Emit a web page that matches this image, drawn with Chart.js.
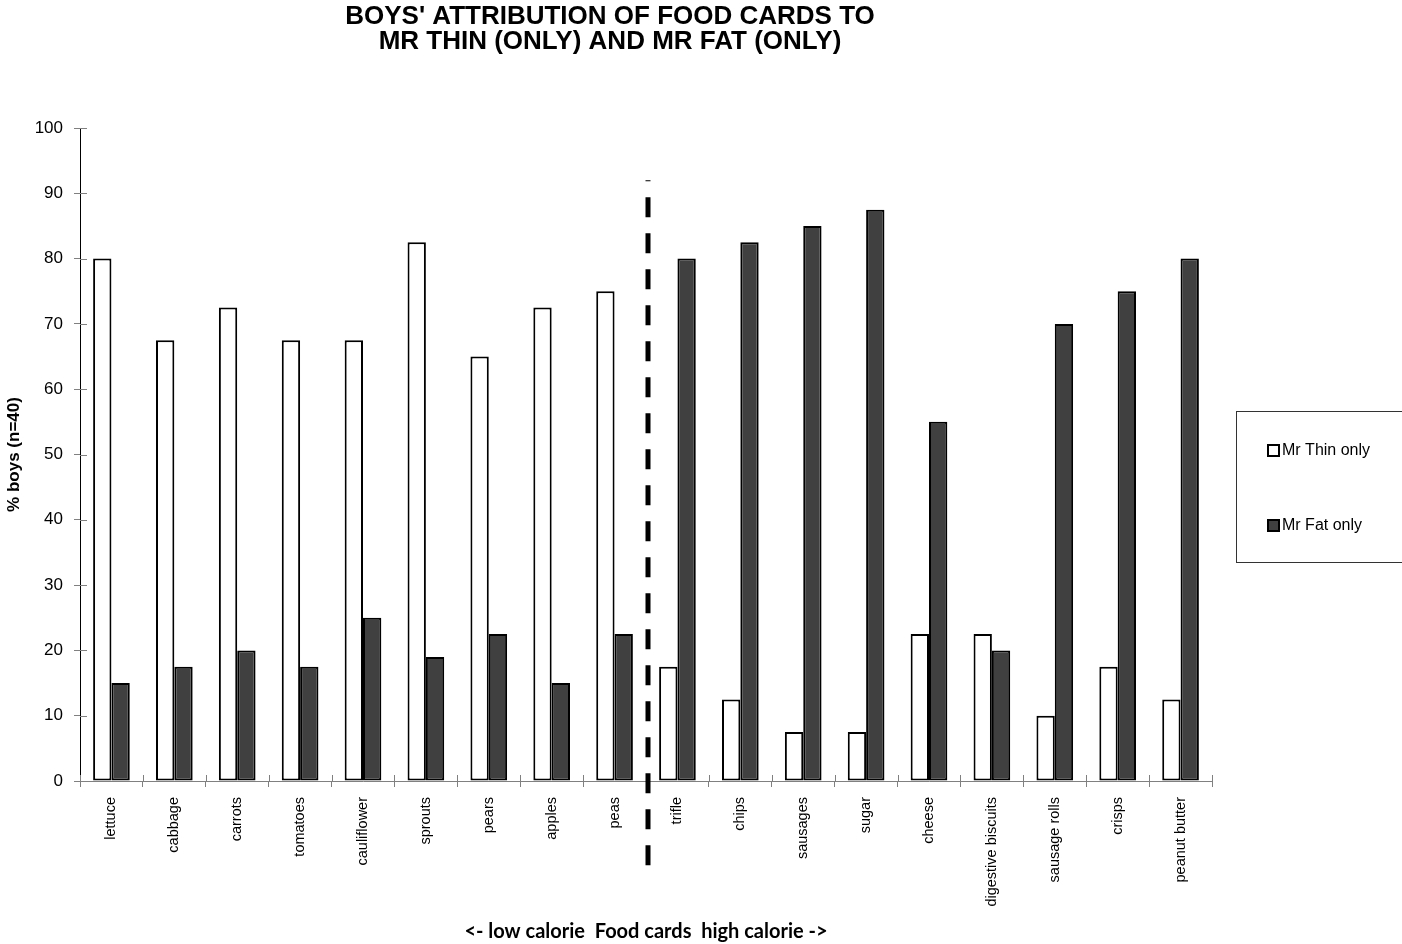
<!DOCTYPE html>
<html lang="en">
<head>
<meta charset="UTF-8" />
<title>Boys' attribution of food cards</title>
<script src="https://cdn.jsdelivr.net/npm/chart.js"></script>
<style>
  html, body { margin: 0; padding: 0; background: #fff; }
  #wrap { width: 1402px; height: 944px; }
</style>
</head>
<body>
<div id="wrap"><canvas id="foodChart"></canvas></div>
<script>
  // food cards, low calorie first, high calorie after the divider
  const foods = ["lettuce", "cabbage", "carrots", "tomatoes", "cauliflower", "sprouts", "pears", "apples", "peas",
                 "trifle", "chips", "sausages", "sugar", "cheese", "digestive biscuits", "sausage rolls", "crisps", "peanut butter"];
  const thinOnly = [80, 67.5, 72.5, 67.5, 67.5, 82.5, 65, 72.5, 75, 17.5, 12.5, 7.5, 7.5, 22.5, 22.5, 10, 17.5, 12.5];
  const fatOnly  = [15, 17.5, 20, 17.5, 25, 19, 22.5, 15, 22.5, 80, 82.5, 85, 87.5, 55, 20, 70, 75, 80];
  const lowCalorieCount = 9;
  const dividerTop = 92;

  const titleLines = ["BOYS' ATTRIBUTION OF FOOD CARDS TO", "MR THIN (ONLY) AND MR FAT (ONLY)"];
  const FONT = "Arial, 'Liberation Sans', sans-serif";

  const extras = {
    id: 'extras',
    afterDraw(chart) {
      const ctx = chart.ctx;
      const x = chart.scales.x, y = chart.scales.y;
      const area = chart.chartArea;

      // inner halves of the tick marks
      ctx.save();
      ctx.strokeStyle = '#808080';
      ctx.lineWidth = 1;
      y.ticks.forEach(t => {
        const py = Math.round(y.getPixelForValue(t.value)) + 0.5;
        ctx.beginPath(); ctx.moveTo(area.left, py); ctx.lineTo(area.left + 7, py); ctx.stroke();
      });
      for (let i = 0; i <= foods.length; i++) {
        const px = Math.round(x.getPixelForValue(i - 0.5)) + 0.5;
        ctx.beginPath(); ctx.moveTo(px, area.bottom); ctx.lineTo(px, area.bottom - 6); ctx.stroke();
      }
      ctx.restore();

      // divider between low and high calorie cards
      const dx = (x.getPixelForValue(lowCalorieCount - 1) + x.getPixelForValue(lowCalorieCount)) / 2 + 2;
      ctx.save();
      ctx.strokeStyle = '#000';
      ctx.lineWidth = 5;
      ctx.setLineDash([20, 16]);
      ctx.lineDashOffset = 19;
      ctx.beginPath();
      ctx.moveTo(dx, y.getPixelForValue(dividerTop));
      ctx.lineTo(dx, area.bottom + 92);
      ctx.stroke();
      ctx.restore();

      // title
      ctx.save();
      ctx.fillStyle = '#000';
      ctx.font = 'bold 26px ' + FONT;
      ctx.textAlign = 'center';
      ctx.textBaseline = 'middle';
      ctx.fillText(titleLines[0], 610, 17);
      ctx.fillText(titleLines[1], 610, 42);
      ctx.restore();

      // legend box
      ctx.save();
      ctx.strokeStyle = '#333';
      ctx.lineWidth = 1;
      ctx.strokeRect(1236.5, 411.5, 200, 151);
      ctx.font = '16px ' + FONT;
      ctx.textBaseline = 'middle';
      chart.data.datasets.forEach((ds, i) => {
        const cy = 450 + i * 75;
        ctx.fillStyle = ds.backgroundColor;
        ctx.fillRect(1268, cy - 5, 11, 11);
        ctx.strokeStyle = '#000';
        ctx.lineWidth = 2;
        ctx.strokeRect(1268, cy - 5, 11, 11);
        ctx.fillStyle = '#000';
        ctx.fillText(ds.label, 1282, cy + 1);
      });
      ctx.restore();
    }
  };

  new Chart(document.getElementById('foodChart'), {
    type: 'bar',
    data: {
      labels: foods,
      datasets: [
        { label: 'Mr Thin only', data: thinOnly, backgroundColor: '#ffffff', borderColor: '#000', borderWidth: 2, borderSkipped: false },
        { label: 'Mr Fat only', data: fatOnly, backgroundColor: '#404040', borderColor: '#000', borderWidth: 2, borderSkipped: false }
      ]
    },
    options: {
      responsive: true,
      maintainAspectRatio: false,
      animation: false,
      categoryPercentage: 0.583,
      barPercentage: 1.0,
      layout: { padding: { top: 128, right: 190, left: 0, bottom: 0 } },
      plugins: {
        legend: { display: false },
        tooltip: { enabled: false }
      },
      scales: {
        x: {
          grid: { offset: true, drawOnChartArea: false, tickLength: 6, color: '#808080' },
          border: { color: '#808080', width: 1 },
          ticks: { color: '#000', font: { family: FONT, size: 14.5 }, minRotation: 90, maxRotation: 90, padding: 10, autoSkip: false },
          title: { display: true, text: '<- low calorie  Food cards  high calorie ->', color: '#000',
                   font: { family: "Lato, 'Open Sans', sans-serif", size: 20, weight: 'bold' }, padding: { top: 0, bottom: 0 } },
          afterFit(scale) { scale.height = 163; }
        },
        y: {
          min: 0, max: 100,
          grid: { drawOnChartArea: false, tickLength: 6, color: '#808080' },
          border: { color: '#000', width: 1 },
          ticks: { stepSize: 10, color: '#000', font: { family: FONT, size: 17 }, padding: 11 },
          title: { display: true, text: '% boys (n=40)', color: '#000',
                   font: { family: FONT, size: 17, weight: 'bold' }, padding: { top: 4, bottom: 0 } },
          afterFit(scale) { scale.width = 80; }
        }
      }
    },
    plugins: [extras]
  });
</script>
</body>
</html>
